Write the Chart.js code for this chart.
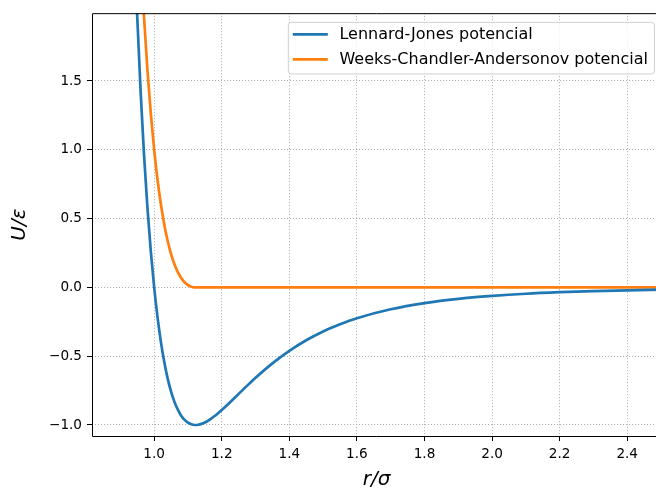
<!DOCTYPE html>
<html>
<head>
<meta charset="utf-8">
<script src="https://cdn.jsdelivr.net/npm/chart.js@4/dist/chart.umd.min.js"></script>
<style>
  html, body { margin: 0; padding: 0; background: #fff; overflow: hidden; }
  canvas { display: block; }
</style>
</head>
<body>
<canvas id="chart" width="662" height="489"></canvas>
<script>
// r / sigma values
const rValues = [0.94, 0.95, 0.96, 0.97, 0.98, 0.99, 1.00, 1.01, 1.02, 1.03, 1.04, 1.05, 1.06, 1.07, 1.08,
  1.09, 1.10, 1.11, 1.12, 1.1225, 1.13, 1.14, 1.15, 1.16, 1.17, 1.18, 1.19, 1.20, 1.22, 1.24, 1.26,
  1.28, 1.30, 1.35, 1.40, 1.45, 1.50, 1.55, 1.60, 1.70, 1.80, 1.90, 2.00, 2.10, 2.20, 2.30, 2.40, 2.50];

// Lennard-Jones U/eps
const ljValues = [2.607, 1.961, 1.418, 0.963, 0.582, 0.264, 0.000, -0.218, -0.398, -0.544, -0.663, -0.758,
  -0.832, -0.889, -0.932, -0.963, -0.983, -0.995, -1.000, -1.000, -0.998, -0.992, -0.982, -0.968, -0.951,
  -0.933, -0.913, -0.891, -0.845, -0.798, -0.750, -0.703, -0.657, -0.552, -0.461, -0.384, -0.320, -0.268,
  -0.224, -0.159, -0.114, -0.083, -0.062, -0.046, -0.035, -0.027, -0.021, -0.016];

// Weeks-Chandler-Andersen U/eps
const wcaValues = [3.607, 2.961, 2.418, 1.963, 1.582, 1.264, 1.000, 0.782, 0.602, 0.456, 0.337, 0.242,
  0.168, 0.111, 0.068, 0.037, 0.017, 0.005, 0.000, 0, 0, 0, 0, 0, 0, 0, 0, 0, 0, 0, 0,
  0, 0, 0, 0, 0, 0, 0, 0, 0, 0, 0, 0, 0, 0, 0, 0, 0];

const seriesLabels = ['Lennard-Jones potencial', 'Weeks-Chandler-Andersonov potencial'];
const xTicks = [1.0, 1.2, 1.4, 1.6, 1.8, 2.0, 2.2, 2.4];
const yTicks = [-1.0, -0.5, 0.0, 0.5, 1.0, 1.5];

const FONT = '"DejaVu Sans", sans-serif';

// spines + matplotlib style legend box
const framePlugin = {
  id: 'frame',
  afterDraw(chart) {
    const ctx = chart.ctx;
    const area = chart.chartArea;
    ctx.save();
    ctx.strokeStyle = '#000';
    ctx.lineWidth = 1;
    ctx.setLineDash([]);
    ctx.beginPath();
    ctx.moveTo(area.right, area.top + 0.5);
    ctx.lineTo(area.left + 0.5, area.top + 0.5);
    ctx.lineTo(area.left + 0.5, area.bottom + 0.5);
    ctx.lineTo(area.right, area.bottom + 0.5);
    ctx.stroke();

    ctx.font = '16px ' + FONT;
    const widths = chart.data.datasets.map(d => ctx.measureText(d.label).width);
    const boxW = 5 + 35 + 11.6 + Math.max(...widths) + 6;
    const boxH = 51.6;
    const x0 = area.right - 7 - boxW;
    const y0 = area.top + 8.7;
    ctx.fillStyle = 'rgba(255,255,255,0.8)';
    ctx.strokeStyle = '#d0d0d0';
    ctx.beginPath();
    ctx.roundRect(x0 + 0.5, y0 + 0.5, boxW, boxH, 3);
    ctx.fill();
    ctx.stroke();

    chart.data.datasets.forEach((d, i) => {
      const yy = y0 + 12.6 + i * 25;
      ctx.strokeStyle = d.borderColor;
      ctx.lineWidth = d.borderWidth;
      ctx.beginPath();
      ctx.moveTo(x0 + 5, yy);
      ctx.lineTo(x0 + 40, yy);
      ctx.stroke();
      ctx.fillStyle = '#000';
      ctx.textBaseline = 'middle';
      ctx.textAlign = 'left';
      ctx.fillText(d.label, x0 + 51.6, yy);
    });
    ctx.restore();
  }
};

const gridStyle = {
  color: '#b0b0b0',
  tickColor: '#000',
  tickBorderDash: [],
  tickLength: 5,
  tickWidth: 1
};
const borderStyle = { display: false, dash: [1.1, 1.9] };

new Chart(document.getElementById('chart'), {
  type: 'line',
  data: {
    datasets: [{
      label: seriesLabels[0],
      data: rValues.map((r, i) => ({ x: r, y: ljValues[i] })),
      borderColor: '#1f77b4',
      borderWidth: 2.7,
      pointRadius: 0,
      cubicInterpolationMode: 'monotone',
      clip: 0
    }, {
      label: seriesLabels[1],
      data: rValues.map((r, i) => ({ x: r, y: wcaValues[i] })),
      borderColor: '#ff7f0e',
      borderWidth: 2.7,
      pointRadius: 0,
      cubicInterpolationMode: 'monotone',
      clip: 0
    }]
  },
  options: {
    responsive: false,
    animation: false,
    layout: { padding: { left: 0, top: 13, right: 1, bottom: 0 } },
    plugins: {
      legend: { display: false },
      tooltip: { enabled: false }
    },
    scales: {
      x: {
        type: 'linear',
        min: 0.816,
        max: 2.5,
        afterBuildTicks: scale => { scale.ticks = xTicks.map(v => ({ value: v })); },
        afterFit: scale => { scale.height = 53; },
        grid: gridStyle,
        border: borderStyle,
        ticks: {
          color: '#000',
          padding: 5,
          maxRotation: 0,
          font: { family: FONT, size: 13.6 },
          callback: v => v.toFixed(1)
        },
        title: {
          display: true,
          text: 'r/σ',
          color: '#000',
          padding: { top: 0, bottom: -3 },
          font: { family: FONT, size: 20, style: 'italic' }
        }
      },
      y: {
        type: 'linear',
        min: -1.08,
        max: 1.993,
        afterBuildTicks: scale => { scale.ticks = yTicks.map(v => ({ value: v })); },
        afterFit: scale => { scale.width = 92; },
        grid: gridStyle,
        border: borderStyle,
        ticks: {
          color: '#000',
          padding: 5,
          font: { family: FONT, size: 13.6 },
          callback: v => (v < 0 ? '\u2212' : '') + Math.abs(v).toFixed(1)
        },
        title: {
          display: true,
          text: 'U/ε',
          color: '#000',
          padding: { top: 8, bottom: 0 },
          font: { family: FONT, size: 20, style: 'italic' }
        }
      }
    }
  },
  plugins: [framePlugin]
});
</script>
</body>
</html>
